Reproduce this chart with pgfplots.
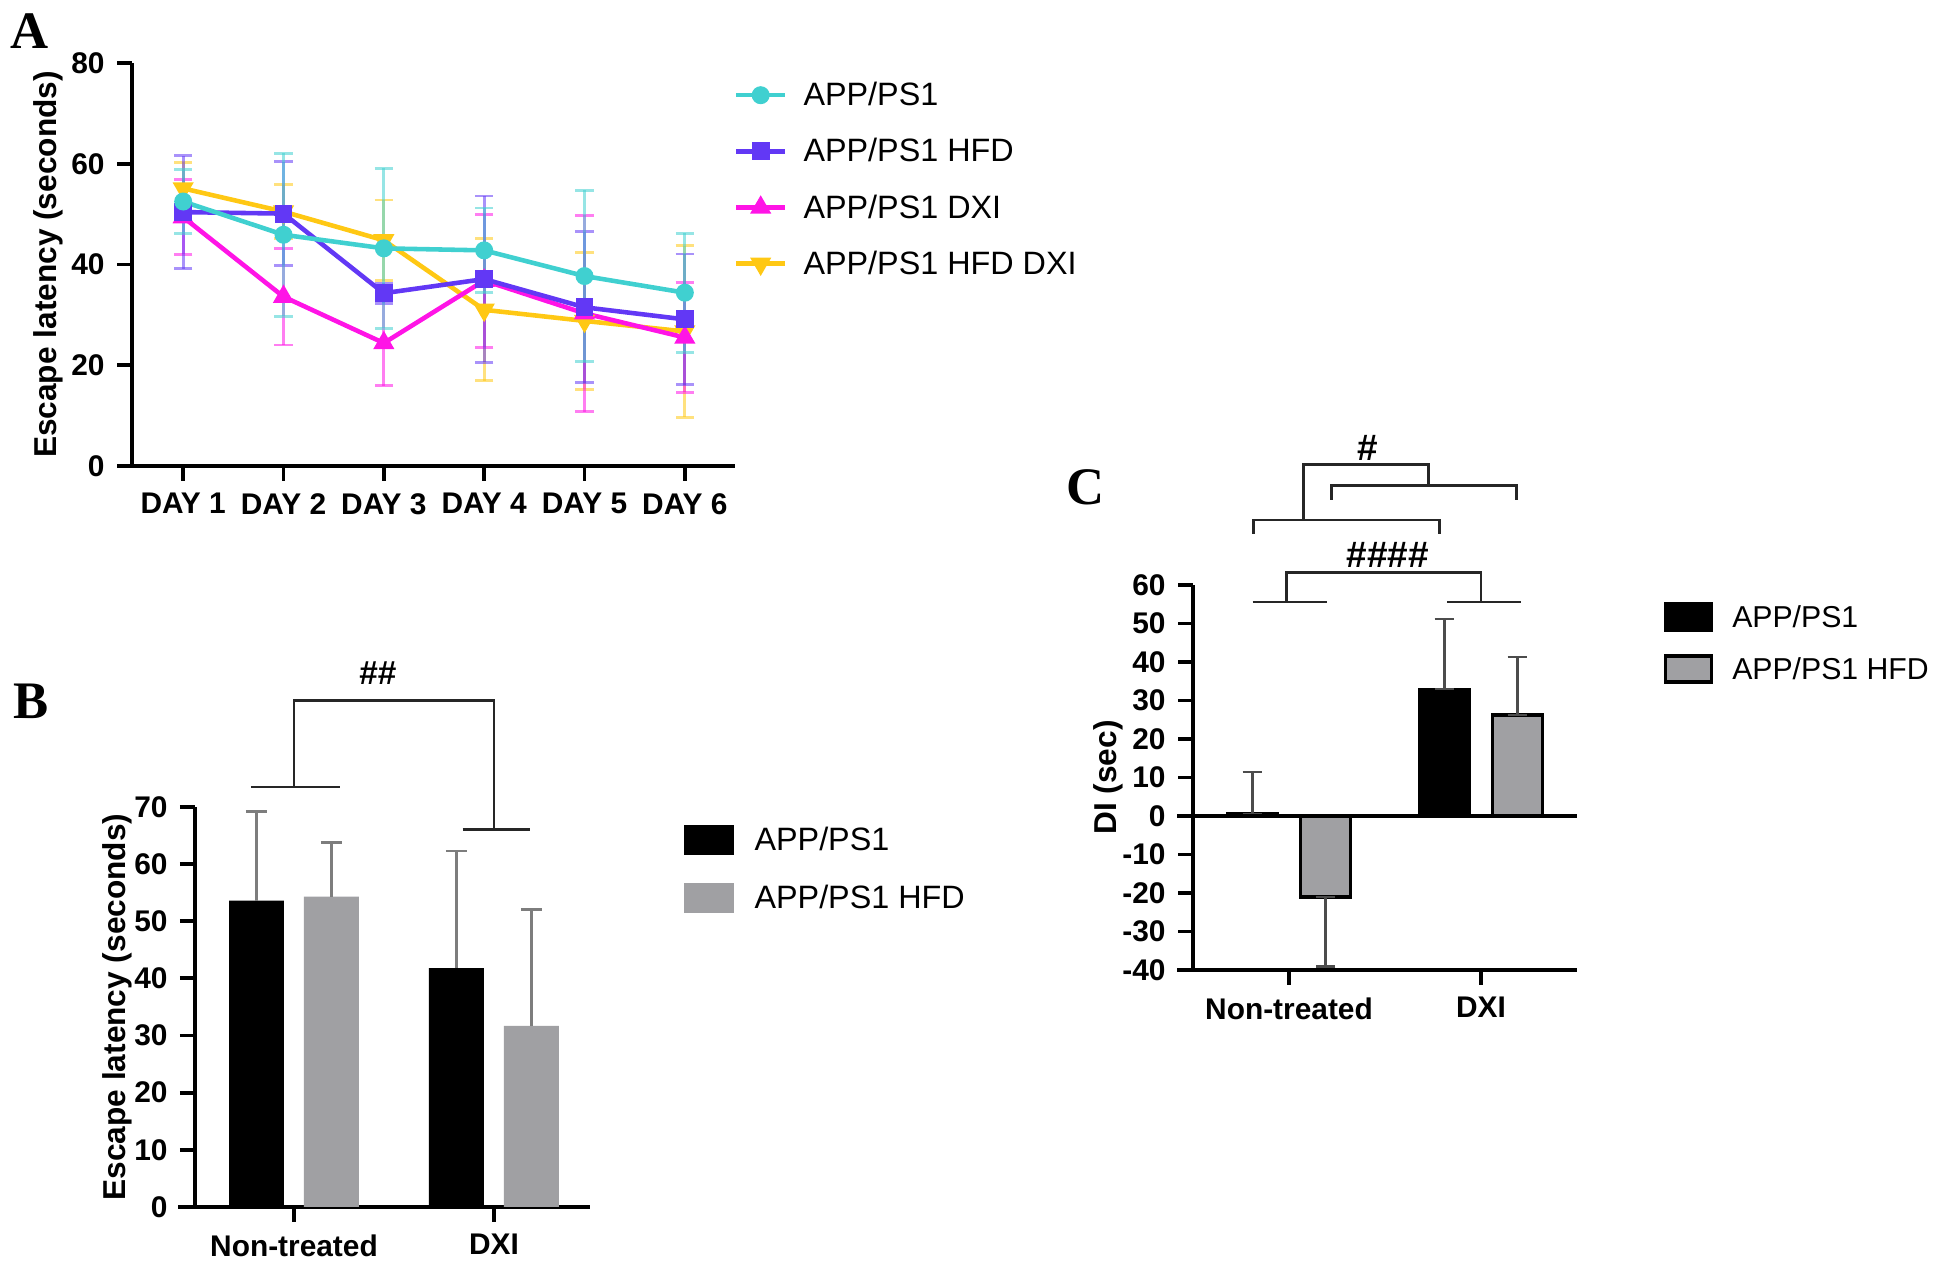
\documentclass[border=0pt]{standalone}
\usepackage{fontspec}
\setmainfont{Liberation Sans}
\newfontfamily\panelfont{Liberation Serif}
\usepackage{pgfplots}
\pgfplotsset{compat=1.18}

\definecolor{cA}{RGB}{64,208,208}
\definecolor{cB}{RGB}{98,56,245}
\definecolor{cC}{RGB}{255,20,230}
\definecolor{cD}{RGB}{255,200,20}
\definecolor{barGray}{RGB}{160,160,163}
\definecolor{errGray}{RGB}{125,125,125}

\tikzset{br/.style={line width=0.8pt, black!85}}
\pgfplotsset{
  gp/.style={
    scale only axis, clip=false,
    axis x line=bottom, axis y line=left,
    axis line style={-, line width=1.1pt},
    tick align=outside, major tick length=0.15cm,
    tick style={line width=1.1pt, black},
    tick label style={font=\bfseries\fontsize{8.5}{10}\selectfont},
    /pgf/number format/assume math mode=true,
    label style={font=\bfseries\fontsize{9}{11}\selectfont},
    legend style={draw=none, fill=none, inner sep=0pt,
      font=\fontsize{9.2}{11}\selectfont,
      nodes={text height=7pt, text depth=1pt, inner sep=2pt}},
    legend cell align=left,
  },
  aerr/.style={error bars/.cd, y dir=both, y explicit,
    error bar style={#1, opacity=0.55, line width=0.8pt},
    error mark options={#1, opacity=0.55, line width=0.8pt, mark size=2.6pt, rotate=90}},
}

\begin{document}
\begin{tikzpicture}
\node[font=\panelfont\bfseries\fontsize{15}{18}\selectfont] at (0.30,12.34) {A};
\node[font=\panelfont\bfseries\fontsize{15}{18}\selectfont] at (0.31,5.64) {B};
\node[font=\panelfont\bfseries\fontsize{15}{18}\selectfont] at (10.86,7.78) {C};

% ---------------- A: escape latency over days
\begin{axis}[gp, at={(1.32cm,7.99cm)}, anchor=south west,
  width=6.03cm, height=4.03cm,
  xmin=0.49, xmax=6.5, ymin=0, ymax=80,
  xtick={1,2,3,4,5,6},
  xticklabels={DAY 1,DAY 2,DAY 3,DAY 4,DAY 5,DAY 6},
  ytick={0,20,40,60,80},
  ylabel={Escape latency (seconds)},
  ylabel style={at={(axis description cs:-0.139,0.5)}, anchor=center},
  legend style={at={(axis description cs:0.997,0.711)}, anchor=west, row sep=0.14cm,
    /tikz/every odd column/.append style={column sep=0.09cm}},
  reverse legend,
  legend image code/.code={\draw[mark repeat=2,mark phase=2,#1]
    plot coordinates {(0cm,0cm) (0.245cm,0cm) (0.49cm,0cm)};},
]
\draw[line width=1.1pt] ([xshift=-0.13cm]rel axis cs:0,0) -- (rel axis cs:0,0);
\addplot[cD, line width=1.3pt, mark=triangle*, mark size=2.2pt,
  mark options={solid, rotate=180, fill=cD}, aerr=cD] coordinates {
(1,55.1) +- (0,5.2) (2,50.5) +- (0,5.3) (3,44.8) +- (0,8.0)
(4,31.0) +- (0,14.1) (5,28.8) +- (0,13.6) (6,26.7) +- (0,17.0)};
\addlegendentry{APP/PS1 HFD DXI}
\addplot[cC, line width=1.3pt, mark=triangle*, mark size=2.2pt,
  mark options={solid, fill=cC}, aerr=cC] coordinates {
(1,49.4) +- (0,7.4) (2,33.6) +- (0,9.6) (3,24.4) +- (0,8.5)
(4,36.8) +- (0,13.2) (5,30.3) +- (0,19.5) (6,25.5) +- (0,10.9)};
\addlegendentry{APP/PS1 DXI}
\addplot[cB, line width=1.3pt, mark=square*, mark size=1.9pt,
  mark options={solid, fill=cB}, aerr=cB] coordinates {
(1,50.4) +- (0,11.2) (2,50.1) +- (0,10.3) (3,34.3) +- (0,2.0)
(4,37.1) +- (0,16.5) (5,31.5) +- (0,15.0) (6,29.1) +- (0,13.0)};
\addlegendentry{APP/PS1 HFD}
\addplot[cA, line width=1.3pt, mark=*, mark size=1.9pt,
  mark options={solid, fill=cA}, aerr=cA] coordinates {
(1,52.5) +- (0,6.3) (2,45.9) +- (0,16.2) (3,43.2) +- (0,15.9)
(4,42.8) +- (0,8.4) (5,37.7) +- (0,17.0) (6,34.4) +- (0,11.8)};
\addlegendentry{APP/PS1}
\end{axis}

% ---------------- B: escape latency by group
\begin{axis}[gp, at={(1.95cm,0.58cm)}, anchor=south west,
  width=3.95cm, height=4.0cm,
  xmin=-0.495, xmax=1.48, ymin=0, ymax=70,
  xtick={0,1}, xticklabels={Non-treated,DXI},
  ytick={0,10,...,70},
  ybar, bar width=0.275,
  ylabel={Escape latency (seconds)},
  ylabel style={at={(axis description cs:-0.197,0.5)}, anchor=center},
  legend style={at={(axis description cs:1.235,0.845)}, anchor=west, row sep=0.15cm,
    /tikz/every odd column/.append style={column sep=0.14cm}},
  legend image code/.code={\fill[#1] (0cm,-0.15cm) rectangle (0.5cm,0.15cm);},
]
\draw[line width=1.1pt] ([xshift=-0.17cm]rel axis cs:0,0) -- (rel axis cs:0,0);
\addplot[fill=black, draw=none, bar shift=-0.1875,
  error bars/.cd, y dir=plus, y explicit,
  error bar style={errGray, line width=0.8pt},
  error mark options={errGray, line width=0.8pt, mark size=3pt, rotate=90}] coordinates {
(0,53.6) +- (0,15.6) (1,41.8) +- (0,20.5)};
\addlegendentry{APP/PS1}
\addplot[fill=barGray, draw=none, bar shift=0.1875,
  error bars/.cd, y dir=plus, y explicit,
  error bar style={errGray, line width=0.8pt},
  error mark options={errGray, line width=0.8pt, mark size=3pt, rotate=90}] coordinates {
(0,54.3) +- (0,9.5) (1,31.7) +- (0,20.4)};
\addlegendentry{APP/PS1 HFD}
\draw[br] (axis cs:-0.216,73.5) -- (axis cs:0.228,73.5);
\draw[br] (axis cs:0,73.5) -- (axis cs:0,88.7) -- (axis cs:1,88.7) -- (axis cs:1,66.0);
\draw[br] (axis cs:0.843,66.0) -- (axis cs:1.18,66.0);
\node[font=\bfseries\fontsize{9.5}{11}\selectfont] at (axis cs:0.42,93.4) {\#\#};
\end{axis}

% ---------------- C: discrimination index
\begin{axis}[gp, at={(11.93cm,2.95cm)}, anchor=south west,
  width=3.84cm, height=3.85cm,
  xmin=-0.5, xmax=1.5, ymin=-40, ymax=60,
  xtick={0,1}, xticklabels={Non-treated,DXI},
  ytick={-40,-30,...,60},
  ybar, bar width=0.26,
  ylabel={DI (sec)},
  ylabel style={at={(axis description cs:-0.221,0.5)}, anchor=center},
  legend style={at={(axis description cs:1.224,0.849)}, anchor=west, row sep=0.1cm,
    font=\fontsize{8.6}{10}\selectfont,
    /tikz/every odd column/.append style={column sep=0.12cm}},
  legend image code/.code={\draw[#1] (0cm,-0.13cm) rectangle (0.46cm,0.13cm);},
]
\draw[line width=1.1pt] ([xshift=-0.16cm]rel axis cs:0,0) -- (rel axis cs:0,0);
\addplot[fill=black, draw=black, line width=1pt, bar shift=-0.19,
  error bars/.cd, y dir=both, y explicit,
  error bar style={black!70, line width=0.6pt},
  error mark options={black!70, line width=0.6pt, mark size=2.8pt, rotate=90}] coordinates {
(0,0.5) += (0,11.0) -= (0,0) (1,32.9) += (0,18.2) -= (0,0)};
\addlegendentry{APP/PS1}
\addplot[fill=barGray, draw=black, line width=1pt, bar shift=0.19,
  error bars/.cd, y dir=both, y explicit,
  error bar style={black!70, line width=0.6pt},
  error mark options={black!70, line width=0.6pt, mark size=2.8pt, rotate=90}] coordinates {
(0,-21.1) += (0,0) -= (0,18.0) (1,26.2) += (0,15.0) -= (0,0)};
\addlegendentry{APP/PS1 HFD}
\draw[line width=1.1pt] ([xshift=-0.16cm]axis cs:-0.5,0) -- (axis cs:1.5,0);
% significance brackets
\draw[br] (axis cs:-0.19,55.6) -- (axis cs:0.20,55.6);
\draw[br] (axis cs:-0.014,55.6) -- (axis cs:-0.014,63.3) -- (axis cs:1.0,63.3) -- (axis cs:1.0,55.6);
\draw[br] (axis cs:0.824,55.6) -- (axis cs:1.21,55.6);
\node[font=\bfseries\fontsize{10.5}{12}\selectfont] at (axis cs:0.515,67.7) {\#\#\#\#};
\draw[br] (axis cs:-0.185,73.3) -- (axis cs:-0.185,76.9) -- (axis cs:0.785,76.9) -- (axis cs:0.785,73.3);
\draw[br] (axis cs:0.22,82.1) -- (axis cs:0.22,85.9) -- (axis cs:1.185,85.9) -- (axis cs:1.185,82.1);
\draw[br] (axis cs:0.074,76.9) -- (axis cs:0.074,91.2) -- (axis cs:0.726,91.2) -- (axis cs:0.726,85.9);
\node[font=\bfseries\fontsize{10.5}{12}\selectfont] at (axis cs:0.41,95.5) {\#};
\end{axis}
\pgfresetboundingbox
\path (0,0) rectangle (19.36,12.65);
\end{tikzpicture}
\end{document}
